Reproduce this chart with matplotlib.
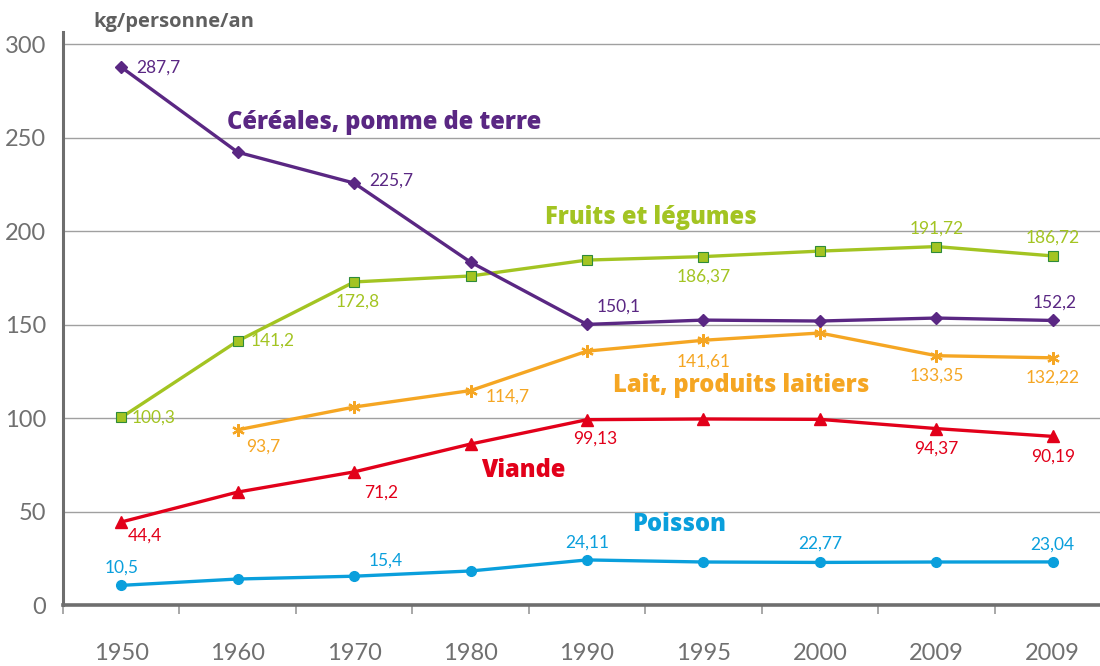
import numpy as np
import matplotlib.pyplot as plt

plt.rcParams['font.family'] = ['Lato', 'DejaVu Sans']

annees = ['1950', '1960', '1970', '1980', '1990', '1995', '2000', '2009', '2009']

cereales = [287.7, 242.2, 225.7, 183.4, 150.1, 152.4, 151.9, 153.5, 152.2]
fruits = [100.3, 141.2, 172.8, 176.0, 184.5, 186.37, 189.3, 191.72, 186.72]
lait = [np.nan, 93.7, 105.9, 114.7, 135.8, 141.61, 145.5, 133.35, 132.22]
viande = [44.4, 60.4, 71.2, 86.1, 99.13, 99.5, 99.3, 94.37, 90.19]
poisson = [10.5, 13.9, 15.4, 18.2, 24.11, 23.0, 22.77, 23.0, 23.04]

# labels shown on the chart: (index, text)
lab_cereales = [(0, '287,7'), (2, '225,7'), (4, '150,1'), (8, '152,2')]
lab_fruits = [(0, '100,3'), (1, '141,2'), (2, '172,8'), (5, '186,37'), (7, '191,72'), (8, '186,72')]
lab_lait = [(1, '93,7'), (3, '114,7'), (5, '141,61'), (7, '133,35'), (8, '132,22')]
lab_viande = [(0, '44,4'), (2, '71,2'), (4, '99,13'), (7, '94,37'), (8, '90,19')]
lab_poisson = [(0, '10,5'), (2, '15,4'), (4, '24,11'), (6, '22,77'), (8, '23,04')]

violet = '#5a2783'
vert = '#a3c422'
orange = '#f5a623'
rouge = '#e2001a'
bleu = '#0a9fdc'

fig = plt.figure(figsize=(11, 6.66), dpi=100)
ax = fig.add_axes([63 / 1100, 1 - 605 / 666, 1048 / 1100, (605 - 32) / 666])

x = np.arange(len(annees))
ax.plot(x, cereales, color=violet, lw=2.4, marker='D', ms=6, zorder=4)
ax.plot(x, fruits, color=vert, lw=2.4, marker='s', ms=6.5, mec='#2e8b3a', mew=0.8, zorder=3)
ax.plot(x, lait, color=orange, lw=2.4, marker=(6, 2, 0), ms=9, mew=1.6, zorder=3)
ax.plot(x, viande, color=rouge, lw=2.4, marker='^', ms=8, zorder=3)
ax.plot(x, poisson, color=bleu, lw=2.4, marker='o', ms=7, zorder=3)

ax.set_xlim(-0.5, 8.5)
ax.set_ylim(0, 306.5)

# value labels, offsets in pixels
off = {
    ('c', 0): (15, 0, 'left', 'center'), ('c', 2): (15, 2, 'left', 'center'),
    ('c', 4): (10, 10, 'left', 'bottom'), ('c', 8): (2, 10, 'center', 'bottom'),
    ('f', 0): (10, 0, 'left', 'center'), ('f', 1): (13, 0, 'left', 'center'),
    ('f', 2): (4, -12, 'center', 'top'), ('f', 5): (0, -12, 'center', 'top'),
    ('f', 7): (0, 10, 'center', 'bottom'), ('f', 8): (0, 10, 'center', 'bottom'),
    ('l', 1): (8, -9, 'left', 'top'), ('l', 3): (15, -6, 'left', 'center'),
    ('l', 5): (0, -13, 'center', 'top'), ('l', 7): (0, -12, 'center', 'top'),
    ('l', 8): (0, -12, 'center', 'top'),
    ('v', 0): (7, -6, 'left', 'top'), ('v', 2): (10, -13, 'left', 'top'),
    ('v', 4): (8, -11, 'center', 'top'), ('v', 7): (0, -12, 'center', 'top'),
    ('v', 8): (0, -12, 'center', 'top'),
    ('p', 0): (0, 10, 'center', 'bottom'), ('p', 2): (15, 8, 'left', 'bottom'),
    ('p', 4): (0, 9, 'center', 'bottom'), ('p', 6): (0, 11, 'center', 'bottom'),
    ('p', 8): (0, 9, 'center', 'bottom'),
}

series = [('c', cereales, lab_cereales, violet), ('f', fruits, lab_fruits, vert),
          ('l', lait, lab_lait, orange), ('v', viande, lab_viande, rouge),
          ('p', poisson, lab_poisson, bleu)]
for key, vals, labs, col in series:
    for i, txt in labs:
        dx, dy, ha, va = off[(key, i)]
        ax.annotate(txt, (x[i], vals[i]), xytext=(dx, dy), textcoords='offset pixels',
                    ha=ha, va=va, color=col, fontsize=12.5, zorder=5)

# series names
noms = [('Céréales, pomme de terre', 2.26, 258, violet),
        ('Fruits et légumes', 4.55, 207.5, vert),
        ('Lait, produits laitiers', 5.32, 117.6, orange),
        ('Viande', 3.45, 72.2, rouge),
        ('Poisson', 4.79, 42.8, bleu)]
for txt, xx, yy, col in noms:
    ax.text(xx, yy, txt, color=col, fontsize=17, fontweight=800, family='Open Sans',
            ha='center', va='center')

# axes styling
ax.set_yticks([0, 50, 100, 150, 200, 250, 300])
ax.set_yticklabels(['0', '50', '100', '150', '200', '250', '300'])
ax.grid(axis='y', color='#a0a0a0', lw=1.0)
ax.set_axisbelow(True)
ax.tick_params(axis='y', length=0, pad=12, labelsize=17, labelcolor='#707070')

ax.set_xticks(np.arange(-0.5, 8.6, 1.0))
ax.set_xticklabels([])
ax.set_xticks(x, minor=True)
ax.set_xticklabels(annees, minor=True)
ax.tick_params(axis='x', which='major', length=6.5, width=1.2, color='#9a9a9a', direction='out')
ax.tick_params(axis='x', which='minor', length=0, pad=27, labelsize=17, labelcolor='#707070')

for s in ['top', 'right']:
    ax.spines[s].set_visible(False)
ax.spines['left'].set_color('#6e6e6e')
ax.spines['left'].set_linewidth(2.2)
ax.spines['bottom'].set_color('#6e6e6e')
ax.spines['bottom'].set_linewidth(2.6)

fig.text(93 / 1100, 1 - 22 / 666, 'kg/personne/an', fontsize=14.5, fontweight='bold',
         family='Open Sans', color='#5f5f5f', ha='left', va='center')

fig.savefig('out.png', dpi=100)
